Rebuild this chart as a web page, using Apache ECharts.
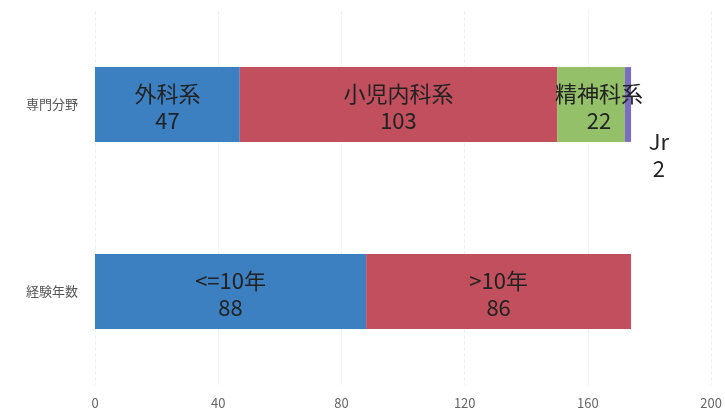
<!DOCTYPE html>
<html><head><meta charset="utf-8">
<script src="https://cdn.jsdelivr.net/npm/echarts@6/dist/echarts.min.js"></script>
<style>html,body{margin:0;padding:0;background:#fff}#c{width:725px;height:413px}</style>
</head><body><div id="c"></div>
<script>
const categories = ['専門分野', '経験年数'];
const seriesNames = ['外科系', '小児内科系', '精神科系', 'Jr'];
const bottomNames = ['<=10年', '>10年'];
const s1 = [47, 88];
const s2 = [103, 86];
const s3 = [22, null];
const s4 = [2, null];
const xTicks = {min: 0, max: 200, interval: 40};
const colors = ['#3d80c1', '#c14f5d', '#94c06a', '#7a6cc0'];

const font = '"Noto Sans CJK JP", "Noto Sans", sans-serif';
const names = [
  [seriesNames[0], bottomNames[0]],
  [seriesNames[1], bottomNames[1]],
  [seriesNames[2], ''],
  [seriesNames[3], '']
];
const baseLabel = {
  show: true, position: 'inside', color: '#222', fontSize: 22, lineHeight: 27,
  fontFamily: font, offset: [0, 3],
  formatter: p => names[p.seriesIndex][p.dataIndex] + '\n' + p.value
};
const data = [s1, s2, s3, s4];
const series = data.map((d, i) => {
  const s = {
    type: 'bar', stack: 'a', name: seriesNames[i], data: d, barWidth: '40%',
    itemStyle: {color: colors[i]},
    label: Object.assign({}, baseLabel)
  };
  if (i === 2) {
    s.label = Object.assign({}, baseLabel, {offset: [8, 3]});
  }
  if (i === 3) {
    s.label = Object.assign({}, baseLabel, {offset: [0, 0], position: [34, 88], align: 'center', verticalAlign: 'middle'});
  }
  return s;
});
const chart = echarts.init(document.getElementById('c'));
chart.setOption({
  animation: false,
  grid: {left: 95, right: 13, top: 11, bottom: 28, containLabel: false},
  xAxis: {
    type: 'value', min: xTicks.min, max: xTicks.max, interval: xTicks.interval,
    axisLine: {show: false}, axisTick: {show: false},
    splitLine: {show: true, lineStyle: {color: '#f0f0f0', type: 'dashed'}},
    axisLabel: {color: '#666', fontSize: 13, fontFamily: font, margin: 12}
  },
  yAxis: {
    type: 'category', data: categories, inverse: true,
    axisLine: {show: false}, axisTick: {show: false},
    axisLabel: {color: '#555', fontSize: 13, fontFamily: font, margin: 17}
  },
  series
});
</script></body></html>
